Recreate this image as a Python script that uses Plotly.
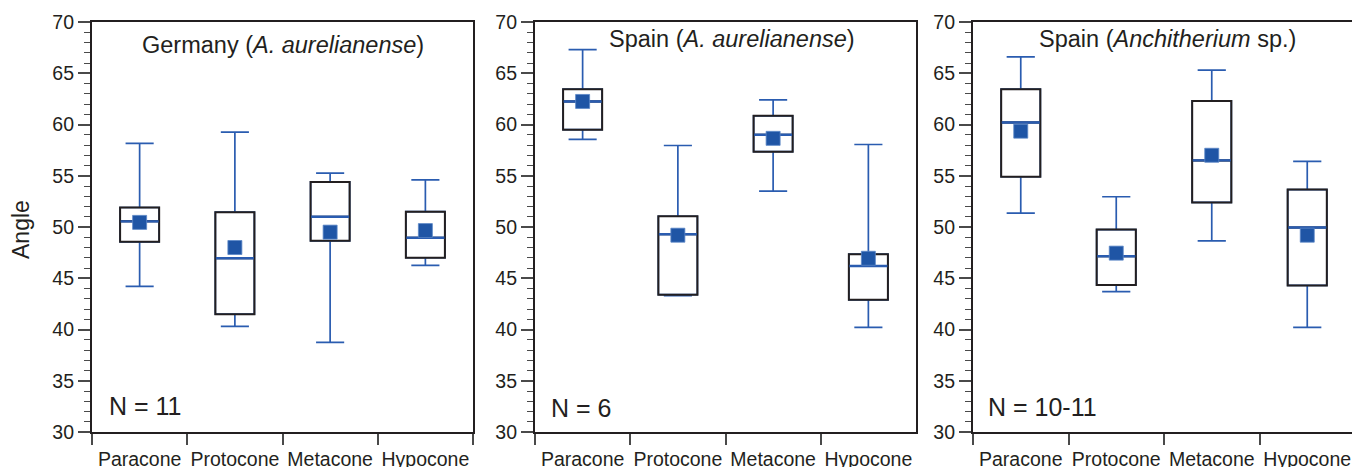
import plotly.graph_objects as go

W, H = 1360, 467
OFF = 8  # page body margin offset

categories = ["Paracone", "Protocone", "Metacone", "Hypocone"]

panel_titles = [
    "Germany (<i>A. aurelianense</i>)",
    "Spain (<i>A. aurelianense</i>)",
    "Spain (<i>Anchitherium</i> sp.)",
]
sample_sizes = ["N = 11", "N = 6", "N = 10-11"]

# Germany (A. aurelianense)
de_lower = [44.2, 40.3, 38.75, 46.25]
de_q1 = [48.55, 41.5, 48.65, 47.0]
de_median = [50.55, 46.95, 51.0, 48.95]
de_q3 = [51.9, 51.45, 54.4, 51.5]
de_upper = [58.15, 59.25, 55.25, 54.6]
de_mean = [50.45, 48.0, 49.5, 49.65]

# Spain (A. aurelianense)
es_lower = [58.55, 43.3, 53.5, 40.2]
es_q1 = [59.5, 43.4, 57.35, 42.9]
es_median = [62.25, 49.3, 59.0, 46.2]
es_q3 = [63.45, 51.05, 60.85, 47.35]
es_upper = [67.3, 57.95, 62.4, 58.05]
es_mean = [62.25, 49.2, 58.65, 46.95]

# Spain (Anchitherium sp.)
an_lower = [51.35, 43.7, 48.65, 40.2]
an_q1 = [54.9, 44.35, 52.4, 44.3]
an_median = [60.2, 47.15, 56.5, 49.95]
an_q3 = [63.45, 49.75, 62.3, 53.65]
an_upper = [66.6, 52.95, 65.3, 56.4]
an_mean = [59.35, 47.45, 57.0, 49.2]

y_ticks = [30, 35, 40, 45, 50, 55, 60, 65, 70]

panels = [
    (de_lower, de_q1, de_median, de_q3, de_upper, de_mean),
    (es_lower, es_q1, es_median, es_q3, es_upper, es_mean),
    (an_lower, an_q1, an_median, an_q3, an_upper, an_mean),
]

BLUE_LINE = "#2a5cb0"
BLUE_MARK = "#1f55a5"
INK = "#231f20"
FONT = "Liberation Sans"
BOX_W = 0.41


def px_x(px):
    return (px - OFF) / W


def px_y(py):
    return 1 - (py - OFF) / H


x_domains_px = [(92, 473), (535, 916), (973, 1355)]
y_dom = [px_y(432), px_y(22)]

fig = go.Figure()
for i, (lo, q1, med, q3, up, mean) in enumerate(panels):
    xa = "x" if i == 0 else f"x{i+1}"
    ya = "y" if i == 0 else f"y{i+1}"
    box_px = BOX_W * (x_domains_px[i][1] - x_domains_px[i][0]) / len(categories)
    # whiskers and caps (blue)
    fig.add_trace(go.Box(
        x=categories, q1=q1, median=med, q3=q3,
        lowerfence=lo, upperfence=up,
        boxpoints=False, width=BOX_W, whiskerwidth=0.72,
        line=dict(color=BLUE_LINE, width=1.7), fillcolor="white",
        xaxis=xa, yaxis=ya, showlegend=False, hoverinfo="skip",
    ))
    # black box outline on top
    fig.add_trace(go.Box(
        x=categories, q1=q1, median=med, q3=q3,
        lowerfence=q1, upperfence=q3,
        boxpoints=False, width=BOX_W, whiskerwidth=0,
        line=dict(color=INK, width=2.0), fillcolor="rgba(0,0,0,0)",
        xaxis=xa, yaxis=ya, showlegend=False, hoverinfo="skip",
    ))
    # blue median line
    fig.add_trace(go.Scatter(
        x=categories, y=med, mode="markers",
        marker=dict(symbol="line-ew", size=(box_px - 1) / 1.4,
                    color=BLUE_LINE, line=dict(color=BLUE_LINE, width=2.4)),
        xaxis=xa, yaxis=ya, showlegend=False, hoverinfo="skip",
    ))
    # means
    fig.add_trace(go.Scatter(
        x=categories, y=mean, mode="markers",
        marker=dict(symbol="square", size=14, color=BLUE_MARK,
                    line=dict(color="#5b86c6", width=0.8)),
        xaxis=xa, yaxis=ya, showlegend=False, hoverinfo="skip",
    ))

layout = dict(
    width=W, height=H,
    margin=dict(l=0, r=0, t=0, b=0, autoexpand=False),
    paper_bgcolor="white", plot_bgcolor="white",
    boxmode="overlay",
    font=dict(family=FONT, color=INK, size=19),
    showlegend=False,
)

for i, (x0, x1) in enumerate(x_domains_px):
    sfx = "" if i == 0 else str(i + 1)
    layout["xaxis" + sfx] = dict(
        domain=[px_x(x0), px_x(x1)], anchor="y" + sfx,
        type="category", categoryorder="array", categoryarray=categories,
        range=[-0.5, 3.5], tickson="boundaries",
        ticks="outside", ticklen=11, tickwidth=1.6, tickcolor="#4a4a4a",
        showline=True, linewidth=2.2, linecolor=INK, mirror=True,
        showgrid=False, zeroline=False, automargin=False, tickangle=0,
        tickfont=dict(size=19.5, family=FONT, color=INK),
        ticklabelstandoff=8,
        fixedrange=True,
    )
    layout["yaxis" + sfx] = dict(
        domain=y_dom, anchor="x" + sfx,
        range=[30, 70], tickmode="array", tickvals=y_ticks,
        ticktext=[str(v) for v in y_ticks],
        ticks="outside", ticklen=12, tickwidth=1.6, tickcolor="#4a4a4a",
        minor=dict(dtick=1, ticks="outside", ticklen=6, tickwidth=1.3,
                   tickcolor="#4a4a4a", showgrid=False),
        showline=True, linewidth=2.2, linecolor=INK, mirror=True,
        showgrid=False, zeroline=False, automargin=False,
        tickfont=dict(size=19.5, family=FONT, color=INK),
        fixedrange=True,
    )

title_pos = [(283, 45), (731.5, 39.5), (1167, 39)]
n_pos = [(107, 406), (549, 408), (986, 407)]
annotations = []
for t, (px, py) in zip(panel_titles, title_pos):
    annotations.append(dict(
        text=t, x=px_x(px), y=px_y(py), xref="paper", yref="paper",
        xanchor="center", yanchor="middle", showarrow=False,
        font=dict(size=23.5, family=FONT, color=INK),
    ))
for t, (px, py) in zip(sample_sizes, n_pos):
    annotations.append(dict(
        text=t, x=px_x(px), y=px_y(py), xref="paper", yref="paper",
        xanchor="left", yanchor="middle", showarrow=False,
        font=dict(size=25, family=FONT, color=INK),
    ))
annotations.append(dict(
    text="Angle", x=px_x(21), y=px_y(230), xref="paper", yref="paper",
    xanchor="center", yanchor="middle", showarrow=False, textangle=-90,
    font=dict(size=23, family=FONT, color=INK),
))
layout["annotations"] = annotations

fig.update_layout(**layout)
fig.write_html("out.html")
